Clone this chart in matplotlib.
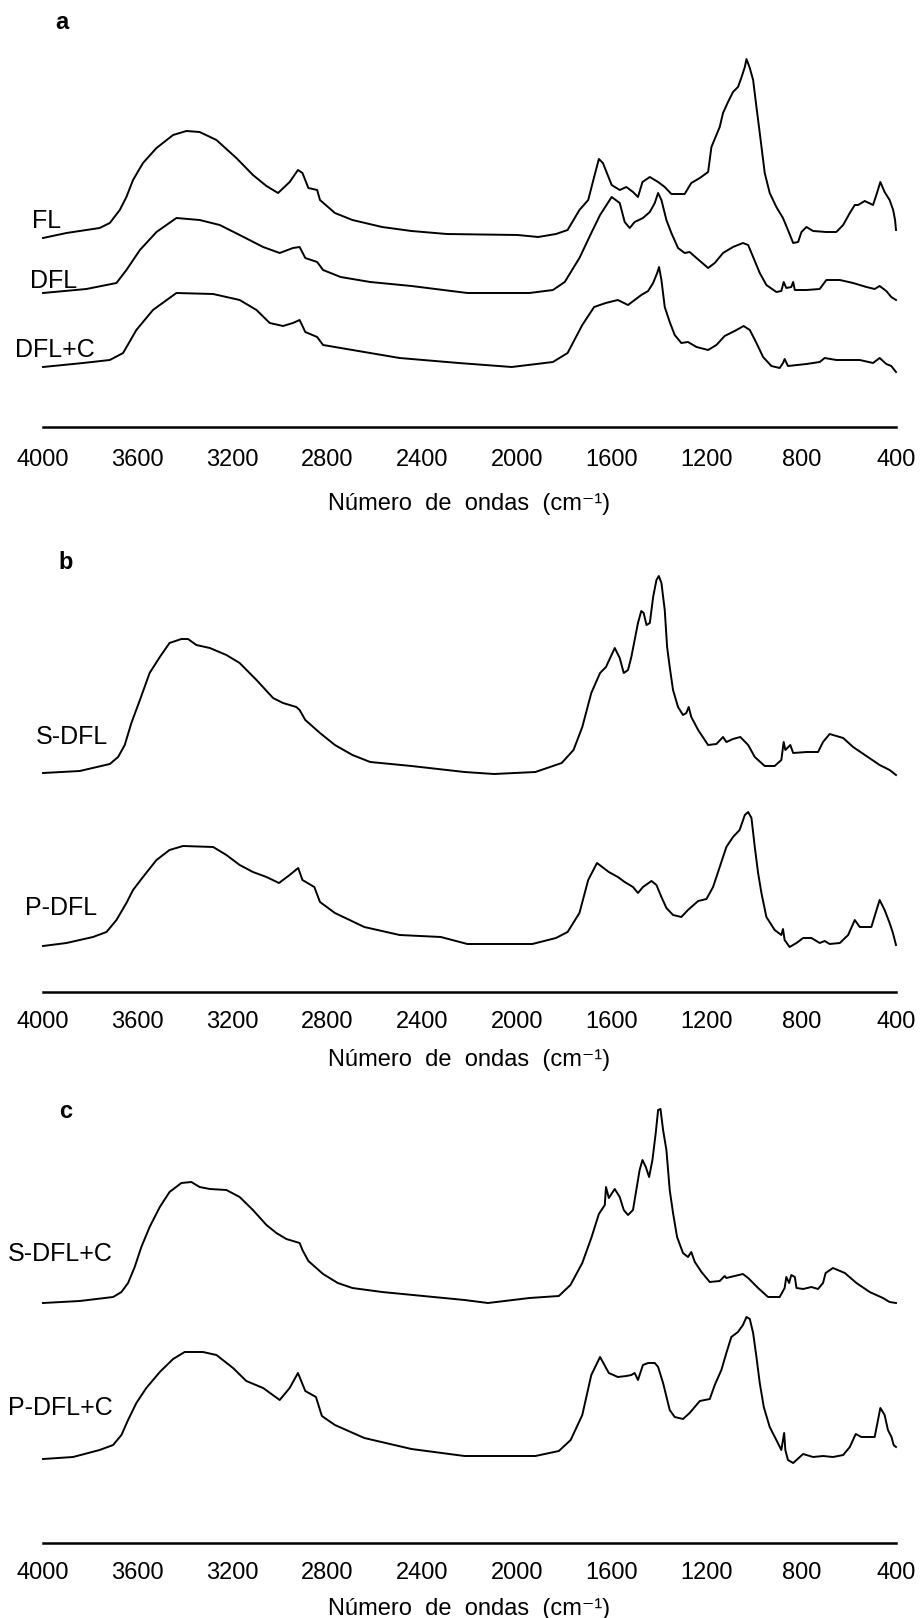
import matplotlib
matplotlib.use("Agg")
import matplotlib.pyplot as plt

plt.rcParams['font.family'] = ['Liberation Sans', 'DejaVu Sans']

# ---------------- data (wavenumber cm-1, absorbance a.u.) ----------------
# panel a
fl_wn = [4000, 3901, 3761, 3718, 3676, 3648, 3620, 3578, 3521, 3451, 3395, 3339, 3268, 3184, 3114, 3057,
         3008, 2959, 2924, 2905, 2880, 2843, 2831, 2768, 2694, 2569, 2445, 2296, 1997, 1910, 1835, 1786,
         1736, 1699, 1674, 1654, 1637, 1600, 1566, 1538, 1510, 1489, 1470, 1439, 1404, 1376, 1348, 1292,
         1264, 1228, 1193, 1179, 1158, 1144, 1130, 1109, 1088, 1067, 1053, 1038, 1031, 1017, 1003, 989,
         975, 954, 933, 905, 877, 856, 834, 813, 799, 778, 750, 694, 652, 623, 595, 574, 560, 532, 497,
         483, 466, 448, 427, 412, 404, 400]
fl_abs = [7, 12, 17, 22, 35, 48, 65, 82, 97, 110, 114, 113, 105, 87, 70, 59,
          52, 63, 75, 72, 57, 55, 45, 32, 25, 18, 14, 11, 10, 8, 11, 15,
          35, 45, 68, 86, 82, 60, 55, 58, 53, 48, 63, 68, 63, 58, 51, 51,
          62, 67, 73, 98, 110, 118, 132, 143, 153, 158, 167, 178, 186, 177, 165, 138,
          112, 72, 52, 38, 27, 15, 2, 3, 13, 18, 14, 13, 13, 20, 32, 40, 40, 44, 40,
          50, 63, 53, 45, 35, 25, 15]

dfl_wn = [4000, 3817, 3690, 3648, 3591, 3521, 3437, 3339, 3254, 3170, 3071, 3001, 2945, 2917, 2893, 2843,
          2818, 2744, 2619, 2445, 2209, 1947, 1848, 1798, 1736, 1686, 1649, 1600, 1566, 1545, 1524, 1503,
          1468, 1439, 1418, 1404, 1390, 1369, 1348, 1320, 1292, 1271, 1242, 1193, 1165, 1130, 1088, 1046,
          1024, 1003, 975, 947, 905, 884, 874, 863, 842, 834, 827, 778, 722, 694, 637, 581, 525, 490,
          469, 441, 420, 400]
dfl_abs = [7, 11, 17, 30, 50, 68, 82, 80, 75, 65, 53, 47, 52, 53, 42, 38,
           30, 23, 18, 14, 7, 7, 10, 18, 42, 67, 85, 103, 97, 78, 72, 78,
           82, 88, 97, 107, 100, 80, 67, 52, 47, 48, 42, 32, 37, 47, 53, 57,
           55, 43, 27, 15, 8, 9, 18, 12, 13, 18, 10, 10, 11, 20, 20, 17, 13, 11,
           14, 9, 3, 0]

dflc_wn = [4000, 3831, 3718, 3662, 3606, 3536, 3437, 3282, 3170, 3099, 3043, 2987, 2945, 2917, 2893, 2843,
           2818, 2694, 2495, 2246, 2022, 1848, 1786, 1724, 1674, 1625, 1574, 1531, 1503, 1475, 1446, 1425,
           1408, 1400, 1390, 1376, 1355, 1334, 1306, 1278, 1242, 1193, 1158, 1123, 1081, 1043, 1017, 989,
           961, 926, 891, 877, 870, 856, 778, 722, 701, 652, 553, 497, 469, 441, 420, 400]
dflc_abs = [5, 9, 12, 19, 42, 62, 79, 78, 72, 62, 49, 46, 49, 52, 40, 35,
            27, 22, 14, 9, 5, 10, 19, 47, 65, 69, 72, 67, 72, 77, 81, 89,
            99, 105, 92, 65, 50, 37, 29, 30, 25, 22, 27, 36, 41, 46, 42, 29,
            15, 6, 4, 9, 13, 6, 8, 10, 14, 12, 12, 9, 14, 8, 6, 0]

# panel b
sdfl_wn = [4000, 3845, 3718, 3683, 3655, 3627, 3591, 3550, 3507, 3466, 3416, 3388, 3353, 3296, 3226, 3170,
           3099, 3029, 2987, 2931, 2917, 2893, 2831, 2768, 2694, 2619, 2445, 2221, 2097, 1922, 1811, 1761,
           1724, 1686, 1649, 1624, 1587, 1566, 1549, 1531, 1517, 1503, 1489, 1475, 1465, 1453, 1439, 1425,
           1411, 1401, 1390, 1376, 1366, 1355, 1341, 1320, 1299, 1285, 1275, 1264, 1235, 1193, 1158, 1130,
           1116, 1088, 1057, 1024, 996, 954, 912, 884, 874, 867, 846, 834, 778, 729, 708, 680, 623, 581,
           525, 469, 427, 400]
sdfl_abs = [2, 4, 11, 18, 30, 52, 75, 102, 118, 132, 136, 136, 130, 127, 120, 112,
            95, 77, 72, 68, 65, 55, 42, 30, 20, 13, 9, 3, 1, 3, 12, 25,
            48, 82, 102, 108, 127, 117, 102, 105, 118, 135, 152, 164, 162, 150, 152, 178,
            195, 199, 192, 165, 128, 108, 85, 68, 60, 62, 68, 58, 45, 30, 31, 38,
            33, 36, 38, 30, 18, 9, 9, 15, 33, 25, 30, 22, 23, 23, 33, 41, 37, 28,
            19, 10, 5, 0]

pdfl_wn = [4000, 3901, 3789, 3732, 3690, 3648, 3620, 3578, 3521, 3466, 3409, 3282, 3226, 3170, 3114, 3057,
           3004, 2959, 2923, 2905, 2855, 2831, 2768, 2644, 2495, 2321, 2209, 1935, 1835, 1786, 1736, 1699,
           1662, 1612, 1574, 1545, 1524, 1510, 1489, 1468, 1432, 1411, 1390, 1369, 1341, 1306, 1278, 1235,
           1200, 1172, 1144, 1116, 1088, 1060, 1038, 1024, 1010, 996, 982, 968, 947, 912, 884, 877, 870,
           849, 820, 792, 757, 722, 701, 680, 637, 602, 574, 553, 504, 486, 469, 448, 427, 413, 400]
pdfl_abs = [1, 4, 10, 15, 27, 44, 57, 70, 87, 97, 101, 100, 92, 82, 75, 70,
            64, 72, 79, 67, 60, 45, 34, 20, 12, 10, 3, 3, 9, 15, 34, 67,
            84, 75, 70, 65, 62, 60, 54, 60, 66, 62, 50, 39, 32, 30, 37, 46,
            48, 60, 80, 100, 110, 117, 132, 135, 129, 100, 74, 54, 30, 17, 12, 18, 7,
            0, 4, 9, 9, 4, 6, 3, 4, 12, 27, 20, 20, 34, 47, 37, 24, 14, 2]

# panel c
sdflc_wn = [4000, 3845, 3704, 3669, 3641, 3613, 3585, 3550, 3507, 3466, 3416, 3374, 3339, 3296, 3226, 3170,
            3114, 3057, 3015, 2973, 2917, 2905, 2880, 2818, 2756, 2694, 2569, 2395, 2221, 2122, 1947, 1823,
            1774, 1724, 1686, 1654, 1629, 1624, 1612, 1587, 1566, 1549, 1531, 1510, 1496, 1482, 1470, 1456,
            1442, 1428, 1414, 1404, 1394, 1383, 1369, 1355, 1341, 1324, 1299, 1278, 1264, 1249, 1221, 1186,
            1144, 1123, 1116, 1046, 1024, 982, 940, 891, 870, 863, 851, 842, 827, 820, 792, 757, 729, 708,
            697, 666, 616, 567, 511, 455, 427, 400]
sdflc_abs = [1, 3, 7, 12, 21, 37, 57, 77, 97, 112, 121, 122, 117, 115, 114, 107,
             94, 79, 71, 65, 61, 54, 43, 30, 21, 16, 12, 8, 4, 1, 6, 8,
             19, 41, 66, 90, 99, 117, 106, 115, 107, 94, 89, 94, 114, 134, 144, 137,
             127, 144, 171, 194, 195, 174, 154, 114, 91, 67, 51, 47, 52, 42, 32, 22,
             23, 28, 26, 30, 26, 16, 7, 7, 16, 27, 21, 29, 27, 16, 15, 17, 15, 21,
             31, 36, 31, 21, 12, 6, 2, 1]

pdflc_wn = [4000, 3873, 3761, 3704, 3669, 3641, 3606, 3564, 3507, 3451, 3402, 3325, 3268, 3198, 3142, 3071,
            3001, 2959, 2924, 2893, 2848, 2823, 2768, 2644, 2445, 2221, 1922, 1823, 1773, 1724, 1686, 1649,
            1612, 1574, 1538, 1517, 1503, 1489, 1468, 1446, 1418, 1404, 1383, 1355, 1334, 1299, 1271, 1228,
            1186, 1165, 1137, 1116, 1095, 1067, 1046, 1031, 1017, 1003, 989, 975, 958, 933, 905, 884, 872,
            867, 856, 834, 792, 750, 708, 666, 623, 595, 570, 546, 490, 476, 466, 448, 434, 419, 410, 400]
pdflc_abs = [4, 6, 13, 18, 28, 43, 60, 75, 91, 104, 111, 111, 108, 95, 82, 75,
             63, 75, 90, 72, 66, 47, 38, 25, 14, 7, 7, 12, 23, 48, 88, 106,
             90, 86, 87, 88, 90, 83, 98, 100, 100, 96, 80, 53, 46, 44, 50, 62,
             64, 78, 93, 110, 126, 131, 138, 146, 144, 130, 106, 80, 56, 36, 23, 13, 30,
             13, 3, 0, 9, 6, 7, 6, 8, 16, 29, 26, 26, 43, 55, 48, 33, 26, 18, 16]

tick_values = [4000, 3600, 3200, 2800, 2400, 2000, 1600, 1200, 800, 400]
tick_labels = ['4000', '3600', '3200', '2800', '2400', '2000', '1600', '1200', '800', '400']
xlabel_text = 'Número  de  ondas  (cm\u207b\u00b9)'

# ---------------- layout (pixels) ----------------
W, H, DPI = 922, 1618, 100
X0, X1 = 43, 896

panels = [
    dict(letter='a', letter_xy=(62, 29), axis_y=427, top_y=35, tick_pad=15.5, xlabel_y=502,
         series=[(fl_wn, fl_abs, 182, 'FL', (32, 228)),
                 (dfl_wn, dfl_abs, 127, 'DFL', (30, 288)),
                 (dflc_wn, dflc_abs, 55, 'DFL+C', (15, 357))]),
    dict(letter='b', letter_xy=(66, 569), axis_y=992, top_y=550, tick_pad=14.0, xlabel_y=1058,
         series=[(sdfl_wn, sdfl_abs, 217, 'S-DFL', (36, 744)),
                 (pdfl_wn, pdfl_abs, 45, 'P-DFL', (25, 915))]),
    dict(letter='c', letter_xy=(66, 1118), axis_y=1543, top_y=1090, tick_pad=14.0, xlabel_y=1607,
         series=[(sdflc_wn, sdflc_abs, 239, 'S-DFL+C', (8, 1261)),
                 (pdflc_wn, pdflc_abs, 80, 'P-DFL+C', (8, 1415))]),
]

fig = plt.figure(figsize=(W / DPI, H / DPI), dpi=DPI)
fig.patch.set_facecolor('white')

for p in panels:
    h = p['axis_y'] - p['top_y']
    ax = fig.add_axes([X0 / W, 1 - p['axis_y'] / H, (X1 - X0) / W, h / H])
    ax.set_xlim(4000, 400)
    ax.set_ylim(0, h)
    for wn, ab, off, name, (lx, ly) in p['series']:
        ax.plot(wn, [off + v for v in ab], color='black', lw=1.4, clip_on=False)
        fig.text(lx / W, 1 - ly / H, name, fontsize=18, ha='left', va='baseline')
    for s in ('top', 'right', 'left'):
        ax.spines[s].set_visible(False)
    ax.spines['bottom'].set_linewidth(1.8)
    ax.set_yticks([])
    ax.set_xticks(tick_values)
    ax.set_xticklabels(tick_labels)
    ax.tick_params(axis='x', length=0, pad=p['tick_pad'], labelsize=17)
    ax.set_xlabel(xlabel_text, fontsize=17, va='center')
    ax.xaxis.set_label_coords(0.5, -(p['xlabel_y'] + 2 - p['axis_y']) / h)
    ax.patch.set_alpha(0)
    lx, ly = p['letter_xy']
    fig.text(lx / W, 1 - ly / H, p['letter'], fontsize=17, fontweight='bold', ha='center', va='baseline')

fig.savefig('out.png', dpi=DPI)
